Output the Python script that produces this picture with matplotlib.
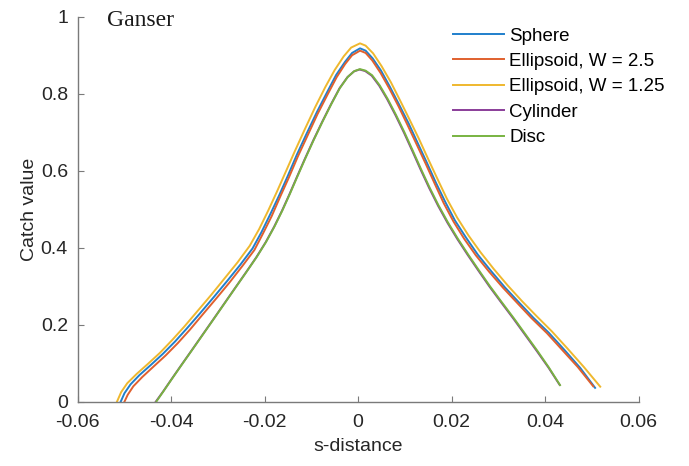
import matplotlib
matplotlib.use('Agg')
import matplotlib.pyplot as plt

# values (s-distance, catch value)
sphere_s = [-0.0508, -0.0500, -0.0487, -0.0468, -0.0444, -0.0418, -0.0392, -0.0366, -0.0338,
            -0.0308, -0.0280, -0.0252, -0.0226, -0.0207, -0.0188, -0.0169, -0.0150, -0.0131,
            -0.0110, -0.0088, -0.0066, -0.0047, -0.0028, -0.0013, 0.0004, 0.0016, 0.0031,
            0.0049, 0.0068, 0.0088, 0.0108, 0.0127, 0.0147, 0.0166, 0.0186, 0.0207,
            0.0231, 0.0256, 0.0284, 0.0314, 0.0344, 0.0375, 0.0408, 0.0441, 0.0475, 0.0507]
sphere_v = [0.0, 0.022, 0.045, 0.069, 0.095, 0.124, 0.156, 0.191, 0.230, 0.273, 0.314,
            0.356, 0.398, 0.440, 0.487, 0.536, 0.588, 0.642, 0.697, 0.753, 0.805, 0.849,
            0.883, 0.906, 0.918, 0.912, 0.892, 0.860, 0.818, 0.771, 0.723, 0.673, 0.621,
            0.570, 0.520, 0.471, 0.426, 0.382, 0.340, 0.297, 0.258, 0.218, 0.179, 0.135,
            0.088, 0.036]

ell25_s = [-0.0500, -0.0493, -0.0481, -0.0462, -0.0438, -0.0412, -0.0386, -0.0360, -0.0333,
           -0.0303, -0.0275, -0.0248, -0.0222, -0.0204, -0.0185, -0.0167, -0.0148, -0.0129,
           -0.0108, -0.0087, -0.0065, -0.0046, -0.0028, -0.0013, 0.0004, 0.0016, 0.0030,
           0.0048, 0.0067, 0.0087, 0.0106, 0.0125, 0.0145, 0.0164, 0.0183, 0.0204,
           0.0227, 0.0252, 0.0280, 0.0310, 0.0340, 0.0371, 0.0404, 0.0437, 0.0470, 0.0503]
ell25_v = [0.0, 0.018, 0.040, 0.064, 0.091, 0.120, 0.152, 0.187, 0.226, 0.269, 0.310,
           0.352, 0.394, 0.436, 0.482, 0.532, 0.583, 0.637, 0.692, 0.747, 0.799, 0.843,
           0.877, 0.900, 0.912, 0.906, 0.887, 0.854, 0.813, 0.766, 0.718, 0.669, 0.617,
           0.566, 0.516, 0.468, 0.423, 0.380, 0.338, 0.296, 0.257, 0.217, 0.178, 0.134,
           0.090, 0.040]

ell125_s = [-0.0516, -0.0507, -0.0494, -0.0474, -0.0450, -0.0424, -0.0398, -0.0372, -0.0344,
            -0.0314, -0.0286, -0.0258, -0.0232, -0.0212, -0.0193, -0.0174, -0.0155, -0.0135,
            -0.0114, -0.0092, -0.0070, -0.0050, -0.0031, -0.0015, 0.0004, 0.0016, 0.0032,
            0.0050, 0.0070, 0.0090, 0.0110, 0.0130, 0.0150, 0.0170, 0.0190, 0.0212,
            0.0236, 0.0262, 0.0290, 0.0320, 0.0350, 0.0382, 0.0415, 0.0448, 0.0483, 0.0518]
ell125_v = [0.0, 0.025, 0.048, 0.072, 0.098, 0.127, 0.160, 0.195, 0.235, 0.278, 0.320,
            0.362, 0.405, 0.448, 0.495, 0.545, 0.597, 0.652, 0.708, 0.765, 0.818, 0.862,
            0.897, 0.920, 0.931, 0.925, 0.905, 0.872, 0.830, 0.782, 0.733, 0.683, 0.630,
            0.578, 0.527, 0.478, 0.432, 0.388, 0.345, 0.302, 0.262, 0.222, 0.182, 0.138,
            0.090, 0.039]

cyl_s = [-0.0433, -0.0417, -0.0399, -0.0379, -0.0357, -0.0334, -0.0311, -0.0287, -0.0263,
         -0.0240, -0.0218, -0.0198, -0.0180, -0.0163, -0.0147, -0.0131, -0.0114, -0.0096,
         -0.0077, -0.0058, -0.0040, -0.0023, -0.0009, 0.0003, 0.0015, 0.0029, 0.0045,
         0.0062, 0.0080, 0.0098, 0.0116, 0.0134, 0.0152, 0.0171, 0.0191, 0.0212,
         0.0234, 0.0257, 0.0281, 0.0306, 0.0332, 0.0357, 0.0382, 0.0407, 0.0431]
cyl_v = [0.0, 0.027, 0.059, 0.094, 0.132, 0.172, 0.212, 0.254, 0.296, 0.336, 0.375,
         0.414, 0.454, 0.496, 0.539, 0.584, 0.631, 0.679, 0.727, 0.773, 0.814, 0.843,
         0.858, 0.863, 0.859, 0.847, 0.821, 0.786, 0.744, 0.699, 0.651, 0.602, 0.555,
         0.509, 0.465, 0.423, 0.382, 0.341, 0.299, 0.258, 0.216, 0.174, 0.132, 0.089,
         0.044]

disc_s = [-0.0432, -0.0416, -0.0398, -0.0378, -0.0356, -0.0333, -0.0310, -0.0286, -0.0262,
          -0.0239, -0.0217, -0.0197, -0.0179, -0.0162, -0.0146, -0.0130, -0.0113, -0.0095,
          -0.0076, -0.0057, -0.0039, -0.0022, -0.0008, 0.0004, 0.0016, 0.0030, 0.0046,
          0.0063, 0.0081, 0.0099, 0.0117, 0.0135, 0.0153, 0.0172, 0.0192, 0.0213,
          0.0235, 0.0258, 0.0282, 0.0307, 0.0333, 0.0358, 0.0383, 0.0408, 0.0432]
disc_v = [0.0, 0.028, 0.060, 0.095, 0.133, 0.173, 0.213, 0.255, 0.297, 0.337, 0.376,
          0.415, 0.455, 0.497, 0.540, 0.585, 0.632, 0.680, 0.728, 0.774, 0.815, 0.844,
          0.859, 0.864, 0.860, 0.848, 0.822, 0.787, 0.745, 0.700, 0.652, 0.603, 0.556,
          0.510, 0.466, 0.424, 0.383, 0.342, 0.300, 0.259, 0.217, 0.175, 0.133, 0.089,
          0.043]

labels = ['Sphere', 'Ellipsoid, W = 2.5', 'Ellipsoid, W = 1.25', 'Cylinder', 'Disc']
colors = ['#1f7fcc', '#e0602e', '#efb82e', '#8a3d99', '#78b341']

plt.rcParams['font.family'] = ['Liberation Sans', 'DejaVu Sans']

fig = plt.figure(figsize=(6.89, 4.66), dpi=100)
ax = fig.add_axes([0.1128, 0.138, 0.814, 0.826])

series = [(sphere_s, sphere_v), (ell25_s, ell25_v), (ell125_s, ell125_v),
          (cyl_s, cyl_v), (disc_s, disc_v)]
for (s, v), lab, c in zip(series, labels, colors):
    ax.plot(s, v, color=c, lw=1.4, label=lab)

ax.set_xlim(-0.06, 0.06)
ax.set_ylim(0, 1)
ax.set_xticks([-0.06, -0.04, -0.02, 0, 0.02, 0.04, 0.06])
ax.set_xticklabels(['-0.06', '-0.04', '-0.02', '0', '0.02', '0.04', '0.06'])
ax.set_yticks([0, 0.2, 0.4, 0.6, 0.8, 1])
ax.set_yticklabels(['0', '0.2', '0.4', '0.6', '0.8', '1'])

for side in ['top', 'right']:
    ax.spines[side].set_visible(False)
for side in ['left', 'bottom']:
    ax.spines[side].set_color('#7a7a7a')
    ax.spines[side].set_linewidth(1.0)
ax.tick_params(direction='in', length=4, color='#7a7a7a', labelsize=14,
               labelcolor='#262626')
ax.tick_params(axis='x', pad=9)
ax.tick_params(axis='y', pad=7)

ax.set_xlabel('s-distance', fontsize=14, color='#262626', labelpad=5)
ax.set_ylabel('Catch value', fontsize=14, color='#262626', labelpad=2)

ax.text(-0.0537, 0.975, 'Ganser', family='Liberation Serif', fontsize=17,
        color='#1a1a1a', va='baseline')

ax.legend(loc='upper left', bbox_to_anchor=(0.669, 0.972), frameon=False,
          fontsize=13.5, handlelength=2.7, handletextpad=0.3, labelspacing=0.44,
          borderpad=0, borderaxespad=0)

plt.savefig('out.png', dpi=100)
plt.close()
